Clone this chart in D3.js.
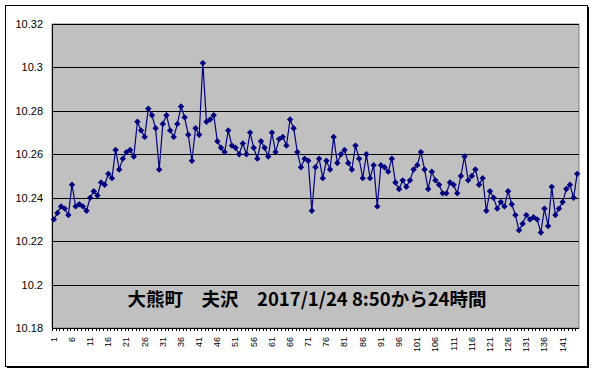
<!DOCTYPE html>
<html>
<head>
<meta charset="utf-8">
<script src="https://cdn.jsdelivr.net/npm/d3@7"></script>
<style>
  body { margin: 0; background: #ffffff; }
</style>
</head>
<body>
<svg id="drawing_region"></svg>
<script>
// 10-minute readings, 145 points
const values = [
    10.230, 10.233, 10.236, 10.235, 10.232, 10.246, 10.236, 10.237, 10.236, 10.234,
    10.240, 10.243, 10.241, 10.247, 10.246, 10.251, 10.249, 10.262, 10.253, 10.258,
    10.261, 10.262, 10.259, 10.275, 10.271, 10.268, 10.281, 10.278, 10.272, 10.253,
    10.274, 10.278, 10.271, 10.268, 10.274, 10.282, 10.277, 10.269, 10.257, 10.272,
    10.269, 10.302, 10.275, 10.276, 10.278, 10.266, 10.263, 10.261, 10.271, 10.264,
    10.263, 10.260, 10.265, 10.260, 10.270, 10.263, 10.258, 10.266, 10.263, 10.259,
    10.270, 10.261, 10.267, 10.268, 10.264, 10.276, 10.272, 10.261, 10.254, 10.258,
    10.257, 10.234, 10.254, 10.258, 10.249, 10.257, 10.253, 10.268, 10.256, 10.260,
    10.262, 10.256, 10.253, 10.264, 10.258, 10.249, 10.260, 10.249, 10.255, 10.236,
    10.255, 10.254, 10.252, 10.258, 10.247, 10.244, 10.248, 10.245, 10.248, 10.253,
    10.255, 10.261, 10.253, 10.244, 10.252, 10.248, 10.246, 10.242, 10.242, 10.247,
    10.246, 10.242, 10.250, 10.259, 10.248, 10.250, 10.253, 10.246, 10.249, 10.234,
    10.243, 10.240, 10.235, 10.238, 10.236, 10.243, 10.237, 10.232, 10.225, 10.228,
    10.232, 10.230, 10.231, 10.230, 10.224, 10.235, 10.227, 10.245, 10.232, 10.235,
    10.238, 10.244, 10.246, 10.240, 10.251
];
const categories = d3.range(1, values.length + 1);
const x_tick_labels = categories.filter((d, i) => i % 5 === 0);
const y_ticks = [10.18, 10.20, 10.22, 10.24, 10.26, 10.28, 10.30, 10.32];
const title_text = "大熊町　夫沢　2017/1/24 8:50から24時間";

class LineChart {

    constructor( config, data ) {
        this.config = config;
        this.data = data;
        this.init();
    }

    init() {
        let self = this;

        self.svg = d3.select( self.config.parent )
            .attr('width', self.config.width)
            .attr('height', self.config.height);

        // chart area frame with shadow
        self.svg.append('rect')
            .attr('x', 7).attr('y', 7)
            .attr('width', 582).attr('height', 361)
            .attr('fill', '#000');
        self.svg.append('rect')
            .attr('x', 5.5).attr('y', 5.5)
            .attr('width', 582).attr('height', 361)
            .attr('fill', '#fff')
            .attr('stroke', '#000');

        self.inner_width = self.config.plot.right - self.config.plot.left;
        self.inner_height = self.config.plot.bottom - self.config.plot.top;

        self.chart = self.svg.append('g')
            .attr('transform', `translate(${self.config.plot.left}, ${self.config.plot.top})`);

        self.xscale = d3.scaleBand()
            .range( [0, self.inner_width] );

        self.yscale = d3.scaleLinear()
            .range( [self.inner_height, 0] );

        self.xaxis = d3.axisBottom( self.xscale )
            .tickValues( x_tick_labels )
            .tickSize(0)
            .tickPadding(0);

        self.yaxis = d3.axisLeft( self.yscale )
            .tickValues( y_ticks )
            .tickSize(0)
            .tickPadding(9)
            .tickFormat( d => String(+d.toFixed(2)) );
    }

    update() {
        let self = this;
        self.xscale.domain( categories );
        self.yscale.domain( [y_ticks[0], y_ticks[y_ticks.length - 1]] );
        self.render();
    }

    render() {
        let self = this;
        const w = self.inner_width, h = self.inner_height;

        self.chart.append('rect')
            .attr('width', w)
            .attr('height', h)
            .attr('fill', '#c0c0c0')
            .attr('stroke', '#808080');

        self.chart.append('g')
            .selectAll('line')
            .data( y_ticks.slice(1) )
            .join('line')
            .attr('x1', 0).attr('x2', w)
            .attr('y1', d => Math.round(self.yscale(d)) + 0.5)
            .attr('y2', d => Math.round(self.yscale(d)) + 0.5)
            .attr('stroke', '#000');

        // category tick marks on the x axis
        self.chart.append('g')
            .selectAll('line')
            .data( categories )
            .join('line')
            .attr('x1', d => Math.round(self.xscale(d)) + 0.5)
            .attr('x2', d => Math.round(self.xscale(d)) + 0.5)
            .attr('y1', h).attr('y2', h + 3)
            .attr('stroke', '#000');

        self.chart.append('line')
            .attr('x1', 0).attr('x2', w)
            .attr('y1', h + 0.5).attr('y2', h + 0.5)
            .attr('stroke', '#000');
        self.chart.append('line')
            .attr('x1', 0.5).attr('x2', 0.5)
            .attr('y1', 0).attr('y2', h)
            .attr('stroke', '#000');

        const cx = d => self.xscale(d) + self.xscale.bandwidth() / 2;

        const line = d3.line()
            .x( (d, i) => cx(categories[i]) )
            .y( d => self.yscale(d) );

        self.chart.append('path')
            .datum( self.data )
            .attr('d', line)
            .attr('fill', 'none')
            .attr('stroke', '#000080')
            .attr('stroke-width', 1.2);

        self.chart.append('g')
            .selectAll('path')
            .data( self.data )
            .join('path')
            .attr('d', d3.symbol(d3.symbolDiamond2, 26))
            .attr('transform', (d, i) => `translate(${cx(categories[i])}, ${self.yscale(d)})`)
            .attr('fill', '#000080');

        const xg = self.chart.append('g')
            .attr('transform', `translate(0, ${h})`)
            .call( self.xaxis );
        xg.select('.domain').remove();
        xg.selectAll('text')
            .attr('transform', 'rotate(-90)')
            .attr('x', -9)
            .attr('y', 0)
            .attr('dy', '0.32em')
            .attr('text-anchor', 'end')
            .style('font-family', '"Liberation Sans Narrow", "Liberation Sans", Arial, sans-serif')
            .style('font-size', '9px');

        const yg = self.chart.append('g')
            .call( self.yaxis );
        yg.select('.domain').remove();
        yg.selectAll('text')
            .style('font-family', '"Liberation Sans", Arial, sans-serif')
            .style('font-size', '11px');

        self.svg.append('text')
            .attr('x', 307)
            .attr('y', 306)
            .attr('text-anchor', 'middle')
            .text( title_text )
            .style('font-family', '"Noto Sans CJK JP", sans-serif')
            .style('font-size', '18.5px')
            .style('font-weight', 'bold');
    }
}

const config = {
    parent: '#drawing_region',
    width: 595,
    height: 373,
    plot: {left: 52, right: 579, top: 24, bottom: 328}
};

const line_chart = new LineChart( config, values );
line_chart.update();
</script>
</body>
</html>
